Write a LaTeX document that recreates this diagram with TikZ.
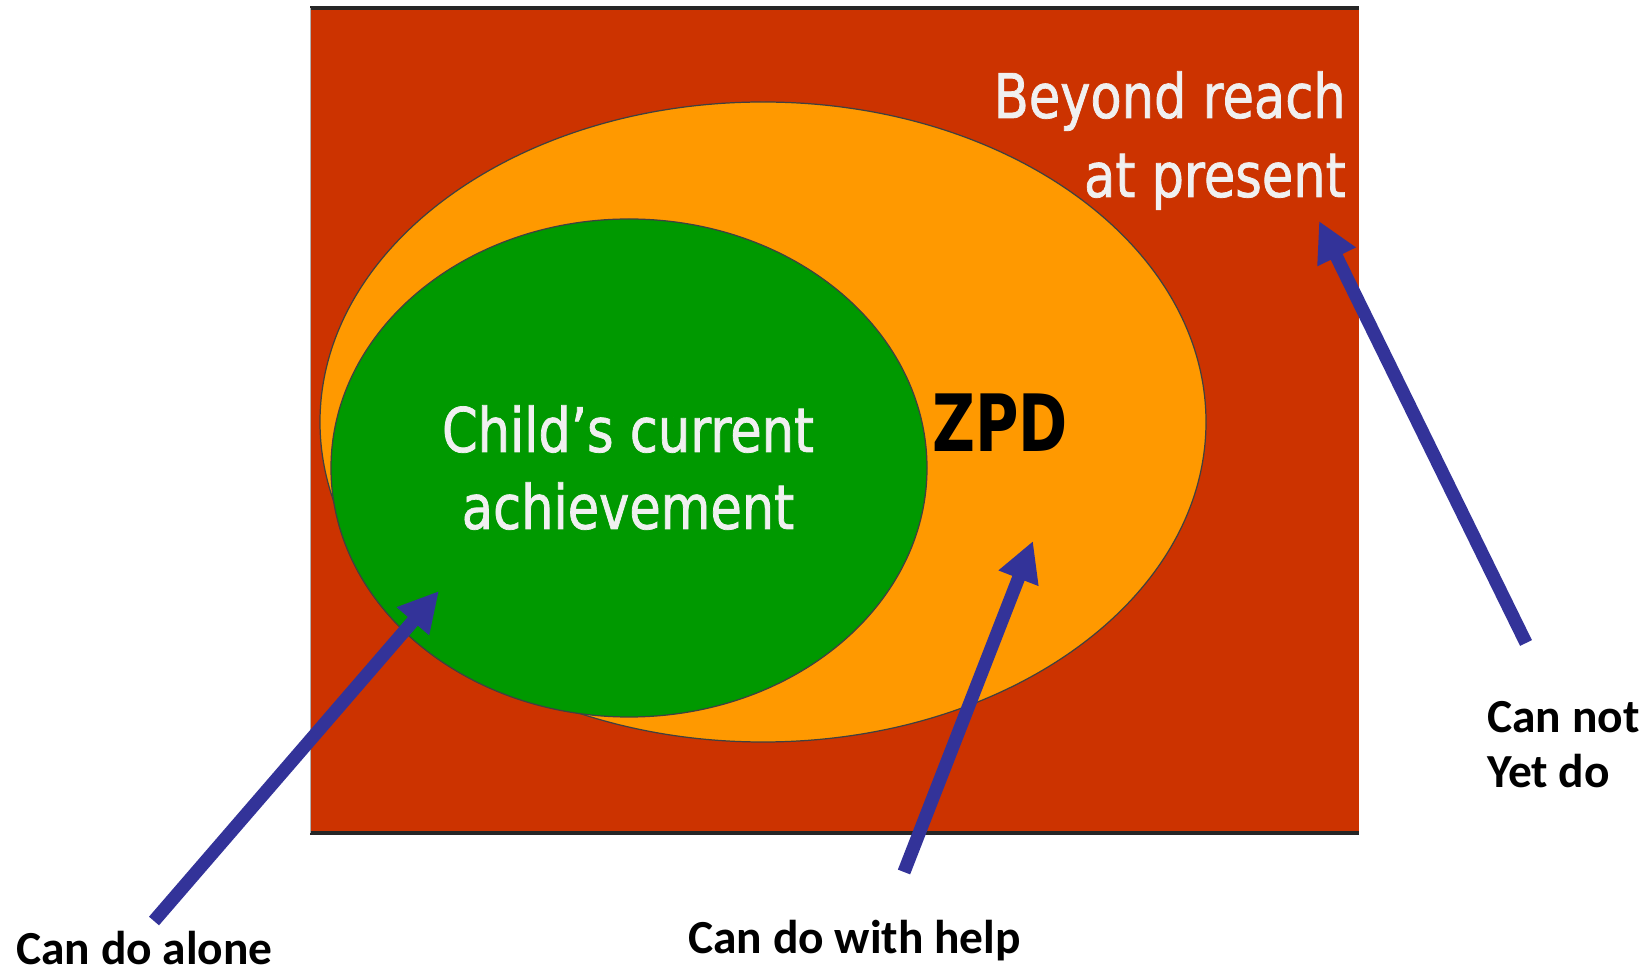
\documentclass[tikz,border=0pt]{standalone}
\usepackage{fontspec}
\setmainfont{Carlito}
\newfontfamily\zonefont[FakeStretch=0.83,FakeBold=1.2]{DejaVu Sans}
\newfontfamily\zpdfont[FakeStretch=0.75]{DejaVu Sans}
\usetikzlibrary{arrows.meta}

\definecolor{beyondred}{RGB}{204,51,0}
\definecolor{zpdorange}{RGB}{255,153,0}
\definecolor{alonegreen}{RGB}{0,153,0}
\definecolor{arrowblue}{RGB}{51,51,153}

\begin{document}
\begin{tikzpicture}[
		pointer/.style={draw=arrowblue, line width=7.5pt, -{Triangle[length=0.8cm,width=0.8cm]}},
		inside/.style={text=white!94!black, font=\zonefont\fontsize{35}{42}\selectfont, inner sep=0pt},
		caption/.style={font=\bfseries\fontsize{27}{32}\selectfont, inner sep=0pt, anchor=base west}]
		\useasboundingbox (0,0) rectangle (32.96,19.48);
		% the square of everything out of reach
		\fill[beyondred] (6.2,2.82) rectangle (27.18,19.32);
		\draw[line width=1.8pt, black!85] (6.2,19.32) -- (27.18,19.32);
		\draw[line width=1.8pt, black!85] (6.2,2.82) -- (27.18,2.82);
		\draw[line width=0.4pt, black!30] (6.2,2.82) -- (6.2,19.32);
		% zones
		\draw[fill=zpdorange, draw=black!75, line width=0.7pt] (15.26,11.04) ellipse (8.86 and 6.4);
		\draw[fill=alonegreen, draw=black!75, line width=0.7pt] (12.58,10.12) ellipse (5.96 and 4.98);
		% texts inside
		\node[inside, anchor=base east] (reach) at (26.92,17.12) {Beyond reach};
		\node[inside, anchor=base east] (present) at (26.92,15.54) {at present};
		\node[inside, anchor=base] (child) at (12.56,10.44) {Child’s current};
		\node[inside, anchor=base] (achieve) at (12.56,8.9) {achievement};
		\node[font=\zpdfont\bfseries\fontsize{45}{50}\selectfont, inner sep=0pt, anchor=base] (zpd) at (20.0,10.44) {ZPD};
		% captions below and beside
		\node[caption] (alone) at (0.32,0.2) {Can do alone};
		\node[caption] (help) at (13.76,0.42) {Can do with help};
		\node[caption] (cannot) at (29.74,4.82) {Can not};
		\node[caption] (yetdo) at (29.74,3.72) {Yet do};
		% arrow ends
		\coordinate (aloneTail) at (3.08,1.06);
		\coordinate (aloneTip) at (8.78,7.66);
		\coordinate (helpTail) at (18.08,2.04);
		\coordinate (helpTip) at (20.66,8.66);
		\coordinate (notTail) at (30.52,6.62);
		\coordinate (notTip) at (26.38,15.06);
		\draw[pointer] (aloneTail) -- (aloneTip);
		\draw[pointer] (helpTail) -- (helpTip);
		\draw[pointer] (notTail) -- (notTip);
\end{tikzpicture}
\end{document}
